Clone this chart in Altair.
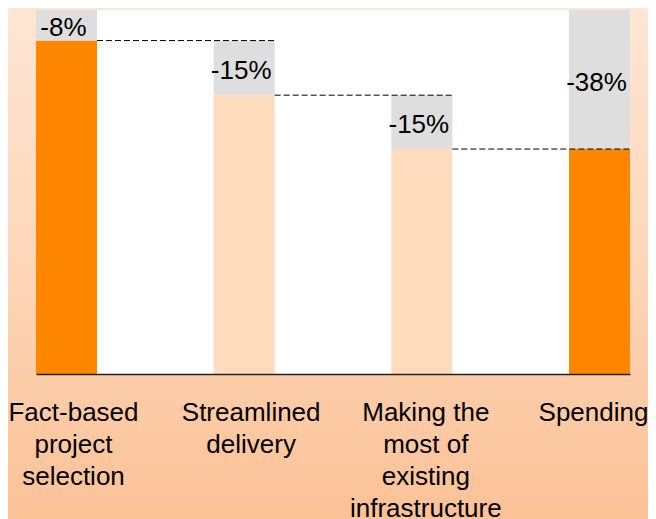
import altair as alt
import pandas as pd

# ---- data ----
categories = ["Fact-based|project|selection", "Streamlined|delivery",
              "Making the|most of|existing|infrastructure", "Spending"]
next_categories = ["Streamlined|delivery",
                   "Making the|most of|existing|infrastructure", "Spending"]
bar_tops = [91.6, 76.6, 61.8, 61.8]        # remaining level after each step (%)
gray_tops = [100.0, 91.6, 76.6, 100.0]     # level before the reduction (%)
change_labels = ["-8%", "-15%", "-15%", "-38%"]
bar_kind = ["total", "step", "step", "total"]
connector_levels = [91.6, 76.6, 61.8]

W, H = 594, 364
PAD = {"left": 28, "top": 2, "right": 18, "bottom": 150}
label_shift = [7, 7, 4, -6]   # small horizontal nudges of the category labels

bars = pd.DataFrame({"cat": categories, "top": bar_tops, "kind": bar_kind})
grays = pd.DataFrame({"cat": categories, "lo": bar_tops, "hi": gray_tops,
                      "label": change_labels})
grays["mid"] = (grays["lo"] + grays["hi"]) / 2
conn = pd.DataFrame({"cat": categories[:3], "next": next_categories,
                     "level": connector_levels})

offset_rule = {
    "condition": [{"test": f"datum.value == '{c}'", "value": s}
                  for c, s in zip(categories, label_shift)],
    "value": 0,
}

xscale = alt.Scale(domain=categories, paddingInner=0.6567, paddingOuter=0)
xaxis = alt.Axis(title=None, ticks=False, labelAngle=0, labelFontSize=26,
                 labelFont="Liberation Sans", labelColor="black",
                 labelExpr="split(datum.label, '|')", labelLineHeight=32,
                 labelPadding=25, labelLimit=0, labelOverlap=False,
                 labelOffset=offset_rule,
                 domainColor="#222222", domainWidth=1.5, zindex=1, grid=False)
yscale = alt.Scale(domain=[0, 100], nice=False, zero=True)


def X(**kw):
    return alt.X("cat:N", scale=xscale, axis=xaxis, sort=categories, **kw)


bg = alt.Chart(pd.DataFrame({"a": [0]})).mark_rect(
    fill=alt.Gradient(gradient="linear", x1=0, y1=0, x2=0, y2=1,
                      stops=[alt.GradientStop(color="#FEE6D4", offset=0),
                             alt.GradientStop(color="#FDD6B8", offset=0.5),
                             alt.GradientStop(color="#FBC196", offset=1)])
).encode(x=alt.value(-PAD["left"]), x2=alt.value(W + PAD["right"]),
         y=alt.value(-PAD["top"]), y2=alt.value(H + PAD["bottom"]))

plot_bg = alt.Chart(pd.DataFrame({"a": [0]})).mark_rect(fill="white").encode(
    x=alt.value(0), x2=alt.value(W), y=alt.value(0), y2=alt.value(H))

base_bars = alt.Chart(bars).mark_bar().encode(
    x=X(),
    y=alt.Y("top:Q", scale=yscale, axis=None),
    y2=alt.datum(0),
    color=alt.Color("kind:N", legend=None,
                    scale=alt.Scale(domain=["total", "step"],
                                    range=["#FF8700", "#FFDCBE"])),
)

gray_bars = alt.Chart(grays).mark_bar(color="#DEDEDE").encode(
    x=X(),
    y=alt.Y("lo:Q", scale=yscale, axis=None),
    y2="hi:Q",
)

rules = alt.Chart(conn).mark_rule(color="#000000", strokeWidth=1,
                                  strokeDash=[6, 3]).encode(
    x=X(bandPosition=1),
    x2=alt.X2("next:N", bandPosition=1),
    y=alt.Y("level:Q", scale=yscale, axis=None),
)

texts = alt.Chart(grays).mark_text(fontSize=26, font="Liberation Sans",
                                   color="black", baseline="middle",
                                   dx=-3, dy=3).encode(
    x=X(bandPosition=0.5),
    y=alt.Y("mid:Q", scale=yscale, axis=None),
    text="label:N",
)

chart = alt.layer(bg, plot_bg, base_bars, gray_bars, rules, texts).properties(
    width=W, height=H, padding=PAD, autosize="none",
).configure_view(stroke=None).configure(background="transparent")

chart.save("out.html", embed_options={"renderer": "svg", "actions": False})
